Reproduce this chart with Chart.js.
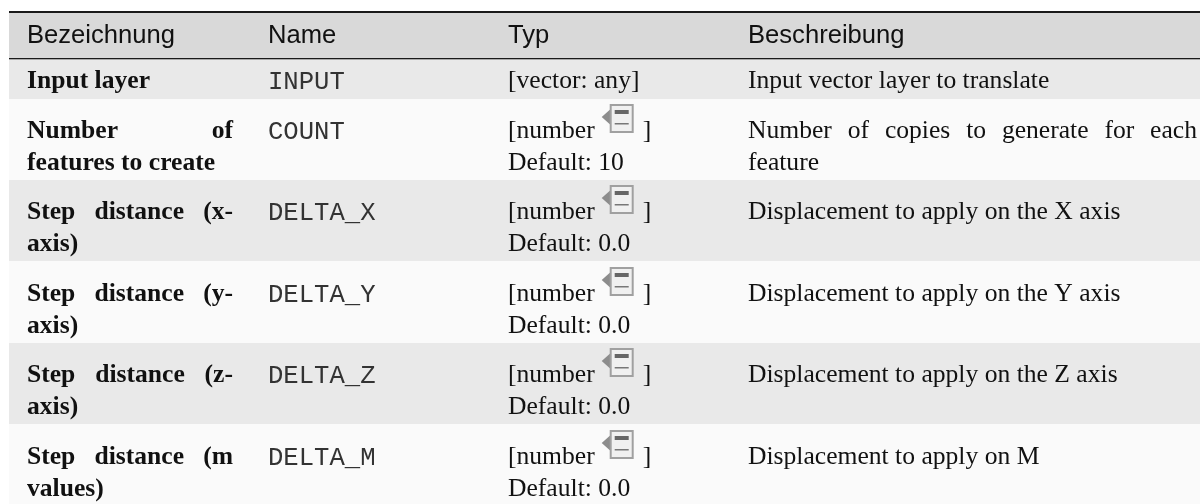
<!DOCTYPE html>
<html>
<head>
<meta charset="utf-8">
<style>
  html, body { margin: 0; padding: 0; background: #fff; }
  canvas { display: block; }
</style>
<script src="https://cdn.jsdelivr.net/npm/chart.js@4"></script>
</head>
<body>
<canvas id="myChart" width="1200" height="504"></canvas>
<script>
// table content
const headers = ['Bezeichnung', 'Name', 'Typ', 'Beschreibung'];
const labels = [
  ['Input layer'],
  ['Number of', 'features to create'],
  ['Step distance (x-', 'axis)'],
  ['Step distance (y-', 'axis)'],
  ['Step distance (z-', 'axis)'],
  ['Step distance (m', 'values)']
];
const names = ['INPUT', 'COUNT', 'DELTA_X', 'DELTA_Y', 'DELTA_Z', 'DELTA_M'];
const types = [
  ['[vector: any]'],
  ['[number', 'Default: 10'],
  ['[number', 'Default: 0.0'],
  ['[number', 'Default: 0.0'],
  ['[number', 'Default: 0.0'],
  ['[number', 'Default: 0.0']
];
const descriptions = [
  ['Input vector layer to translate'],
  ['Number of copies to generate for each', 'feature'],
  ['Displacement to apply on the X axis'],
  ['Displacement to apply on the Y axis'],
  ['Displacement to apply on the Z axis'],
  ['Displacement to apply on M']
];

// layout of the table, in scale units (same as px here)
const colX = [27, 268, 508, 748];
const colRight = [233, 0, 0, 1197];
const rowEdges = [58, 99, 180, 261, 343, 424, 504];
const baselines = [88, 138, 219, 301, 382, 464];
const tableLeft = 9;
const tableTop = 12;
const lineGap = 32;
const fontPx = 25.6;
const serif = '"Liberation Serif"';

function justify(ctx, text, x, right, y) {
  const words = text.split(' ');
  const used = words.reduce((s, w) => s + ctx.measureText(w).width, 0);
  const gap = (right - x - used) / (words.length - 1);
  let cx = x;
  words.forEach(w => {
    ctx.fillText(w, cx, y);
    cx += ctx.measureText(w).width + gap;
  });
}

function drawIcon(ctx, x, y) {
  // the little "data defined" button after [number
  ctx.fillStyle = '#8c8c8c';
  ctx.beginPath();
  ctx.moveTo(x, y + 13);
  ctx.lineTo(x + 9, y + 5);
  ctx.lineTo(x + 9, y + 21);
  ctx.closePath();
  ctx.fill();
  ctx.fillStyle = '#f0f0f0';
  ctx.strokeStyle = '#a0a0a0';
  ctx.lineWidth = 2;
  ctx.fillRect(x + 9, y + 1, 22, 27);
  ctx.strokeRect(x + 9, y + 1, 22, 27);
  ctx.fillStyle = '#666';
  ctx.fillRect(x + 13, y + 6, 14, 4);
  ctx.fillStyle = '#777';
  ctx.fillRect(x + 13, y + 19, 14, 1.5);
}

const tablePlugin = {
  id: 'tablePlugin',
  beforeDatasetsDraw(chart) {
    const { ctx, scales: { x, y } } = chart;
    const left = x.getPixelForValue(tableLeft);
    const right = x.getPixelForValue(1200);
    ctx.save();
    // bands
    ctx.fillStyle = '#d9d9d9';
    ctx.fillRect(left, y.getPixelForValue(tableTop), right - left, y.getPixelForValue(rowEdges[0]) - y.getPixelForValue(tableTop));
    for (let i = 0; i < labels.length; i++) {
      ctx.fillStyle = i % 2 == 0 ? '#e9e9e9' : '#fafafa';
      const top = y.getPixelForValue(rowEdges[i]);
      const bottom = y.getPixelForValue(rowEdges[i + 1]);
      ctx.fillRect(left, top, right - left, bottom - top);
    }
    // rules
    ctx.fillStyle = '#1a1a1a';
    ctx.fillRect(left, y.getPixelForValue(tableTop) - 1, right - left, 2);
    ctx.fillRect(left, y.getPixelForValue(rowEdges[0]), right - left, 1.3);

    // header
    ctx.fillStyle = '#111';
    ctx.textBaseline = 'alphabetic';
    ctx.font = fontPx + 'px "Liberation Sans"';
    headers.forEach((h, i) => ctx.fillText(h, x.getPixelForValue(colX[i]), y.getPixelForValue(43)));

    // rows
    for (let i = 0; i < labels.length; i++) {
      const base = y.getPixelForValue(baselines[i]);
      ctx.fillStyle = '#111';
      ctx.font = 'bold ' + fontPx + 'px ' + serif;
      labels[i].forEach((t, k) => {
        const ly = base + k * lineGap;
        if (k == 0 && labels[i].length > 1) justify(ctx, t, x.getPixelForValue(colX[0]), x.getPixelForValue(colRight[0]), ly);
        else ctx.fillText(t, x.getPixelForValue(colX[0]), ly);
      });
      ctx.fillStyle = '#333';
      ctx.font = fontPx + 'px "Liberation Mono"';
      ctx.fillText(names[i], x.getPixelForValue(colX[1]), base + 1);
      ctx.fillStyle = '#111';
      ctx.font = fontPx + 'px ' + serif;
      types[i].forEach((t, k) => {
        ctx.fillText(t, x.getPixelForValue(colX[2]), base + k * lineGap);
        if (t == '[number') {
          const w = ctx.measureText(t).width;
          drawIcon(ctx, x.getPixelForValue(colX[2]) + w + 7, base - 34);
          ctx.fillStyle = '#111';
          ctx.fillText(']', x.getPixelForValue(colX[2]) + w + 48, base);
        }
      });
      descriptions[i].forEach((t, k) => {
        const ly = base + k * lineGap;
        if (k == 0 && descriptions[i].length > 1) justify(ctx, t, x.getPixelForValue(colX[3]), x.getPixelForValue(colRight[3]), ly);
        else ctx.fillText(t, x.getPixelForValue(colX[3]), ly);
      });
    }
    ctx.restore();
  }
};

new Chart(document.getElementById('myChart'), {
  type: 'scatter',
  data: { datasets: [{ data: [] }] },
  options: {
    responsive: false,
    animation: false,
    layout: { padding: 0 },
    plugins: { legend: { display: false }, tooltip: { enabled: false } },
    scales: {
      x: { type: 'linear', min: 0, max: 1200, display: false },
      y: { type: 'linear', min: 0, max: 504, reverse: true, display: false }
    }
  },
  plugins: [tablePlugin]
});
</script>
</body>
</html>
